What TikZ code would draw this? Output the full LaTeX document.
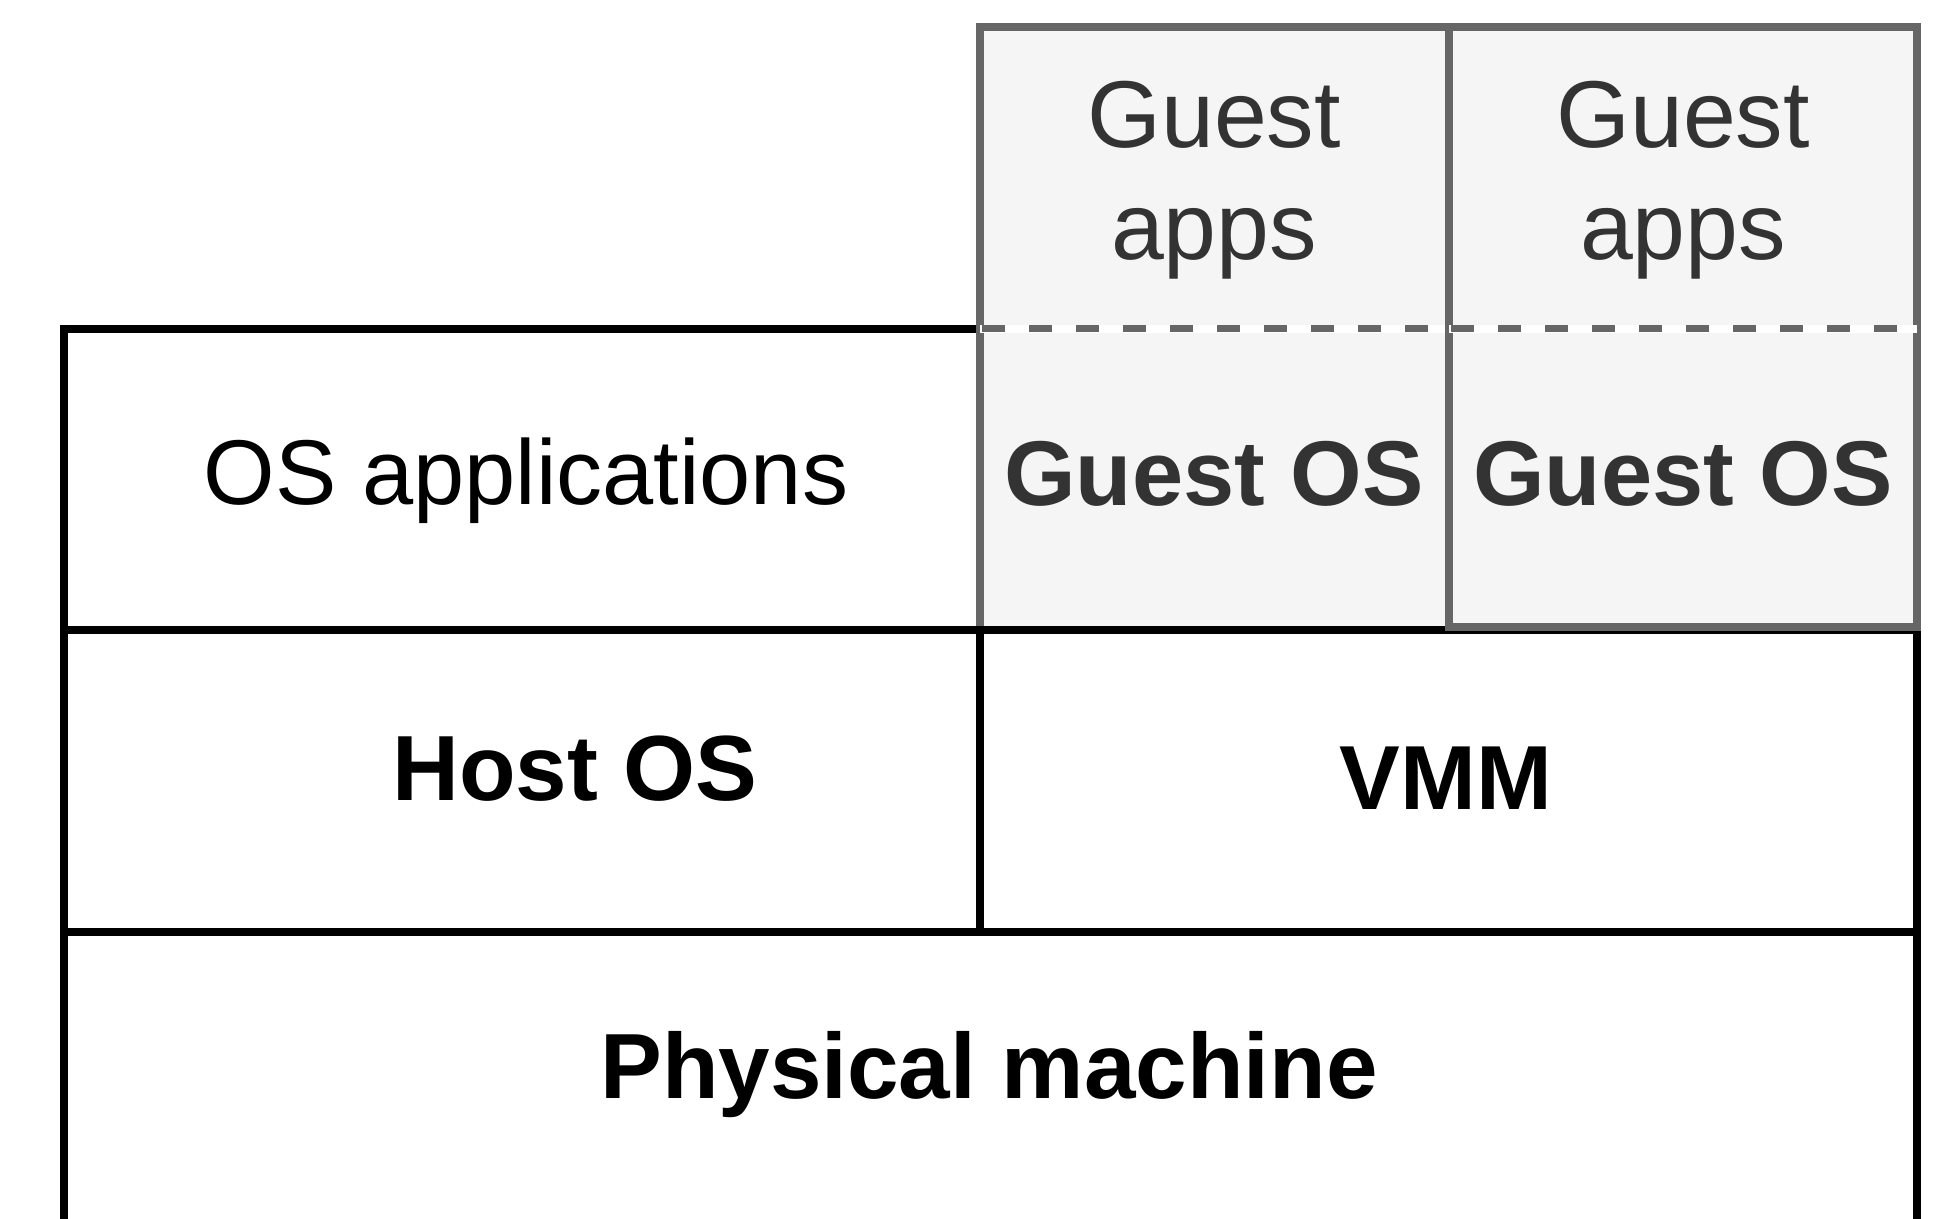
\documentclass[tikz,border=0pt]{standalone}
\usepackage{fontspec}
\setmainfont{Liberation Sans}
\definecolor{guestline}{HTML}{666666}
\definecolor{guestfill}{HTML}{F5F5F5}
\definecolor{guesttext}{HTML}{333333}
\begin{document}
\begin{tikzpicture}[x=0.5pt,y=-0.5pt,
  hostbox/.style={draw=black,line width=4pt},
  guestbox/.style={draw=guestline,fill=guestfill,line width=3.75pt},
  sepline/.style={draw=guestline,line width=3.5pt,dash pattern=on 11.5pt off 12pt},
  sepgap/.style={draw=white,line width=3.75pt},
  plain/.style={inner sep=0pt,font=\fontsize{46}{55}\selectfont},
  heavy/.style={inner sep=0pt,font=\fontsize{46}{55}\bfseries\selectfont},
  guestlbl/.style={inner sep=0pt,text=guesttext,align=center,font=\fontsize{47.5}{56}\selectfont}]
\useasboundingbox (0,0) rectangle (1938,1219);

% host side: applications and host OS
\draw[hostbox] (64,329) rectangle (980,630);
\draw[hostbox] (64,630) rectangle (980,932);

% first guest VM (apps over OS)
\draw[guestbox] (980,27) rectangle (1449,630);
\draw[sepgap] (980,329) -- (1449,329);
\draw[sepline] (982,329) -- (1449,329);

% virtual machine monitor
\draw[hostbox] (980,630) rectangle (1917,932);

% second guest VM
\draw[guestbox] (1449,27) rectangle (1917,627);
\draw[sepgap] (1449,329) -- (1917,329);
\draw[sepline] (1451,329) -- (1917,329);

% physical machine, open at the bottom
\draw[hostbox] (64,1230) -- (64,932) -- (1917,932) -- (1917,1230);

% labels
\node[guestlbl] (apps1) at (1214,180) {Guest\\apps};
\node[guestlbl] (apps2) at (1683,180) {Guest\\apps};
\node[plain] (osapps) at (526,481) {OS applications};
\node[heavy,text=guesttext] (gos1) at (1214,474) {Guest OS};
\node[heavy,text=guesttext] (gos2) at (1683,474) {Guest OS};
\node[heavy,font=\fontsize{46.3}{55}\bfseries\selectfont] (hostos) at (575,769) {Host OS};
\node[heavy,font=\fontsize{45.5}{55}\bfseries\selectfont] (vmm) at (1446,778) {VMM};
\node[heavy,font=\fontsize{46.3}{55}\bfseries\selectfont] (phys) at (989,1075) {Physical machine};
\end{tikzpicture}
\end{document}
